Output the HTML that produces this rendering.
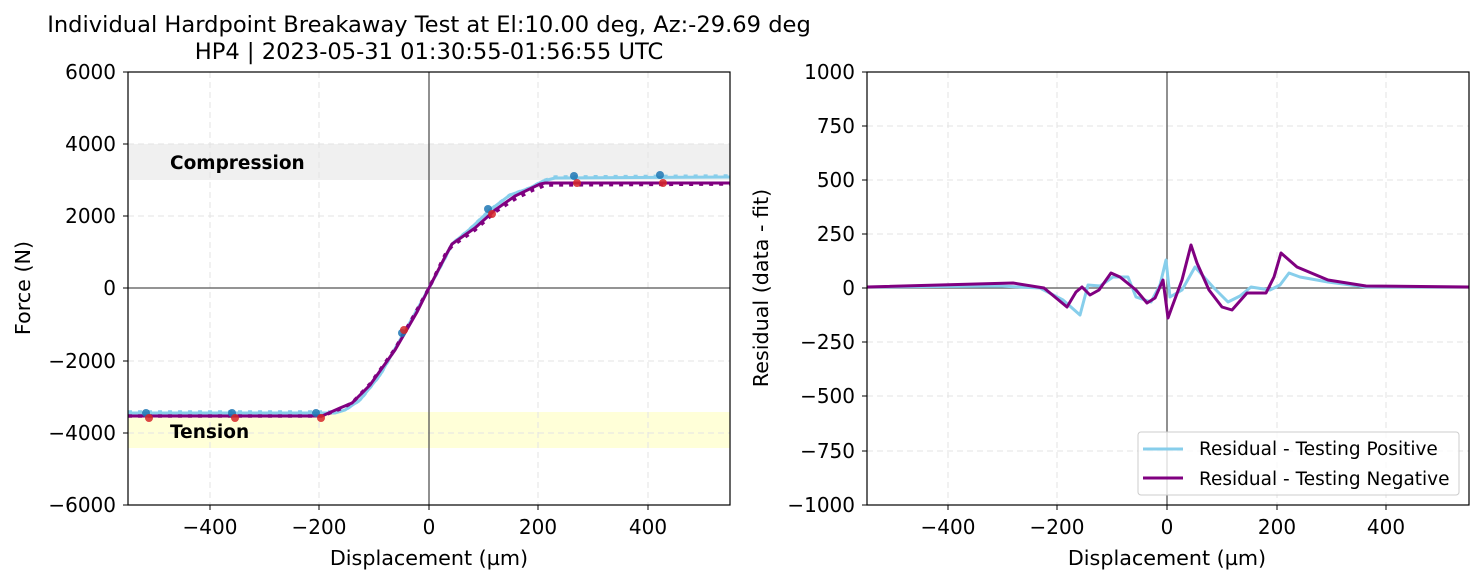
<!DOCTYPE html>
<html><head><meta charset="utf-8"><style>body{margin:0;background:#fff}svg{display:block;font-family:"DejaVu Sans","Liberation Sans",sans-serif}</style></head><body>
<svg width="1483" height="583" viewBox="0 0 1483 583" xmlns="http://www.w3.org/2000/svg">
<rect width="1483" height="583" fill="#fff"/>
<text x="429" y="32" font-size="22.6" text-anchor="middle">Individual Hardpoint Breakaway Test at El:10.00 deg, Az:-29.69 deg</text>
<text x="429" y="59" font-size="22.6" text-anchor="middle">HP4 | 2023-05-31 01:30:55-01:56:55 UTC</text>
<!-- left plot -->
<g>
<rect x="128" y="144" width="602" height="36" fill="#f0f0f0"/>
<rect x="128" y="412" width="602" height="36" fill="#ffffd8"/>
<g stroke="#e3e3e3" stroke-width="1" stroke-dasharray="6,4">
<line x1="210" y1="72" x2="210" y2="505"/><line x1="319" y1="72" x2="319" y2="505"/><line x1="538" y1="72" x2="538" y2="505"/><line x1="648" y1="72" x2="648" y2="505"/>
<line x1="128" y1="144" x2="730" y2="144"/><line x1="128" y1="216" x2="730" y2="216"/><line x1="128" y1="361" x2="730" y2="361"/><line x1="128" y1="433" x2="730" y2="433"/>
</g>
<line x1="429" y1="72" x2="429" y2="505" stroke="#555" stroke-width="1.3"/>
<line x1="128" y1="288" x2="730" y2="288" stroke="#555" stroke-width="1.3"/>
<text x="170" y="169" font-size="18.5" font-weight="bold">Compression</text>
<text x="170" y="438" font-size="18.5" font-weight="bold">Tension</text>
<polyline fill="none" stroke="#87ceeb" stroke-width="3" points="128,413 335,413 345,410 360,400 380,375 400,340 418,308 429,288 445,258 452,244 470,229 490,210 510,195 530,188 543,181 555,178 730,177"/>
<polyline fill="none" stroke="#87ceeb" stroke-width="3.5" stroke-dasharray="4,6" points="128,412 335,412 345,410 360,400 380,375 400,340 418,308 429,288 445,258 452,244 470,229 490,210 510,195 530,188 543,181 555,177 730,176"/>
<polyline fill="none" stroke="#800080" stroke-width="3" points="128,416 322,416 340,408 352,403 370,385 395,350 417,312 429,288 446,255 452,244 475,228 495,210 515,196 540,184 545,183 730,183"/>
<polyline fill="none" stroke="#800080" stroke-width="3.5" stroke-dasharray="4,6" points="128,416 322,416 340,409 352,403 370,384 395,349 417,310 429,288 446,253 452,246 475,230 495,212 515,199 533,190 537,189 545,185 730,184"/>
<g fill="#1f77b4" opacity="0.85"><circle cx="146" cy="413" r="4"/><circle cx="232" cy="413" r="4"/><circle cx="316" cy="413" r="4"/><circle cx="402" cy="333" r="4"/><circle cx="488" cy="209" r="4"/><circle cx="574" cy="176" r="4"/><circle cx="660" cy="175" r="4"/></g>
<g fill="#d62728" opacity="0.85"><circle cx="149" cy="418" r="4"/><circle cx="235" cy="418" r="4"/><circle cx="321" cy="418" r="4"/><circle cx="404" cy="330" r="4"/><circle cx="492" cy="214" r="4"/><circle cx="577" cy="183" r="4"/><circle cx="663" cy="183" r="4"/></g>
<rect x="128" y="72" width="602" height="433" fill="none" stroke="#000" stroke-width="1.2"/>
<g stroke="#000" stroke-width="1"><line x1="210" y1="505" x2="210" y2="510"/><line x1="319" y1="505" x2="319" y2="510"/><line x1="429" y1="505" x2="429" y2="510"/><line x1="538" y1="505" x2="538" y2="510"/><line x1="648" y1="505" x2="648" y2="510"/>
<line x1="123" y1="72" x2="128" y2="72"/><line x1="123" y1="144" x2="128" y2="144"/><line x1="123" y1="216" x2="128" y2="216"/><line x1="123" y1="288" x2="128" y2="288"/><line x1="123" y1="361" x2="128" y2="361"/><line x1="123" y1="433" x2="128" y2="433"/><line x1="123" y1="505" x2="128" y2="505"/></g>
<g font-size="20" text-anchor="middle"><text x="210" y="534">−400</text><text x="319" y="534">−200</text><text x="429" y="534">0</text><text x="538" y="534">200</text><text x="648" y="534">400</text></g>
<g font-size="20" text-anchor="end"><text x="116" y="79">6000</text><text x="116" y="151">4000</text><text x="116" y="223">2000</text><text x="116" y="295">0</text><text x="116" y="368">−2000</text><text x="116" y="440">−4000</text><text x="116" y="512">−6000</text></g>
<text x="429" y="565" font-size="20.7" text-anchor="middle">Displacement (µm)</text>
<text transform="translate(30,288) rotate(-90)" font-size="20.7" text-anchor="middle">Force (N)</text>
</g>
<!-- right plot -->
<g>
<g stroke="#e3e3e3" stroke-width="1" stroke-dasharray="6,4">
<line x1="948" y1="72" x2="948" y2="505"/><line x1="1057" y1="72" x2="1057" y2="505"/><line x1="1277" y1="72" x2="1277" y2="505"/><line x1="1386" y1="72" x2="1386" y2="505"/>
<line x1="867" y1="126" x2="1469" y2="126"/><line x1="867" y1="180" x2="1469" y2="180"/><line x1="867" y1="234" x2="1469" y2="234"/><line x1="867" y1="342" x2="1469" y2="342"/><line x1="867" y1="396" x2="1469" y2="396"/><line x1="867" y1="451" x2="1469" y2="451"/>
</g>
<line x1="1167" y1="72" x2="1167" y2="505" stroke="#555" stroke-width="1.3"/>
<line x1="867" y1="288" x2="1469" y2="288" stroke="#555" stroke-width="1.3"/>
<polyline fill="none" stroke="#87ceeb" stroke-width="3" stroke-linejoin="round" points="867,287 1000,286 1040,288 1063,300 1080,315 1088,285 1100,286 1113,277 1128,277 1136,297 1151,302 1160,285 1166,260 1170,297 1182,290 1195,267 1213,287 1228,302 1240,296 1251,287 1270,290 1280,285 1289,273 1300,277 1328,282 1366,287 1469,287"/>
<polyline fill="none" stroke="#800080" stroke-width="3" stroke-linejoin="round" points="867,287 1013,283 1044,288 1067,307 1076,292 1082,287 1090,295 1099,290 1111,273 1120,277 1136,290 1147,303 1155,298 1163,280 1168,318 1172,307 1182,280 1191,245 1197,263 1209,290 1222,307 1232,310 1247,293 1266,293 1274,277 1281,253 1297,267 1328,280 1366,286 1469,287"/>
<rect x="867" y="72" width="602" height="433" fill="none" stroke="#000" stroke-width="1.2"/>
<g stroke="#000" stroke-width="1"><line x1="948" y1="505" x2="948" y2="510"/><line x1="1057" y1="505" x2="1057" y2="510"/><line x1="1167" y1="505" x2="1167" y2="510"/><line x1="1277" y1="505" x2="1277" y2="510"/><line x1="1386" y1="505" x2="1386" y2="510"/>
<line x1="862" y1="72" x2="867" y2="72"/><line x1="862" y1="126" x2="867" y2="126"/><line x1="862" y1="180" x2="867" y2="180"/><line x1="862" y1="234" x2="867" y2="234"/><line x1="862" y1="288" x2="867" y2="288"/><line x1="862" y1="342" x2="867" y2="342"/><line x1="862" y1="396" x2="867" y2="396"/><line x1="862" y1="451" x2="867" y2="451"/><line x1="862" y1="505" x2="867" y2="505"/></g>
<g font-size="20" text-anchor="middle"><text x="948" y="534">−400</text><text x="1057" y="534">−200</text><text x="1167" y="534">0</text><text x="1277" y="534">200</text><text x="1386" y="534">400</text></g>
<g font-size="20" text-anchor="end"><text x="855" y="79">1000</text><text x="855" y="133">750</text><text x="855" y="187">500</text><text x="855" y="241">250</text><text x="855" y="295">0</text><text x="855" y="349">−250</text><text x="855" y="403">−500</text><text x="855" y="458">−750</text><text x="855" y="512">−1000</text></g>
<text x="1167" y="565" font-size="20.7" text-anchor="middle">Displacement (µm)</text>
<text transform="translate(768,288) rotate(-90)" font-size="20.7" text-anchor="middle">Residual (data - fit)</text>
<rect x="1138" y="432" width="321" height="63" rx="3" fill="#fff" fill-opacity="0.8" stroke="#ccc"/>
<line x1="1143" y1="449" x2="1183" y2="449" stroke="#87ceeb" stroke-width="3"/>
<line x1="1143" y1="478" x2="1183" y2="478" stroke="#800080" stroke-width="3"/>
<text x="1199" y="455" font-size="18.5">Residual - Testing Positive</text>
<text x="1199" y="485" font-size="18.5">Residual - Testing Negative</text>
</g>
</svg>
</body></html>
